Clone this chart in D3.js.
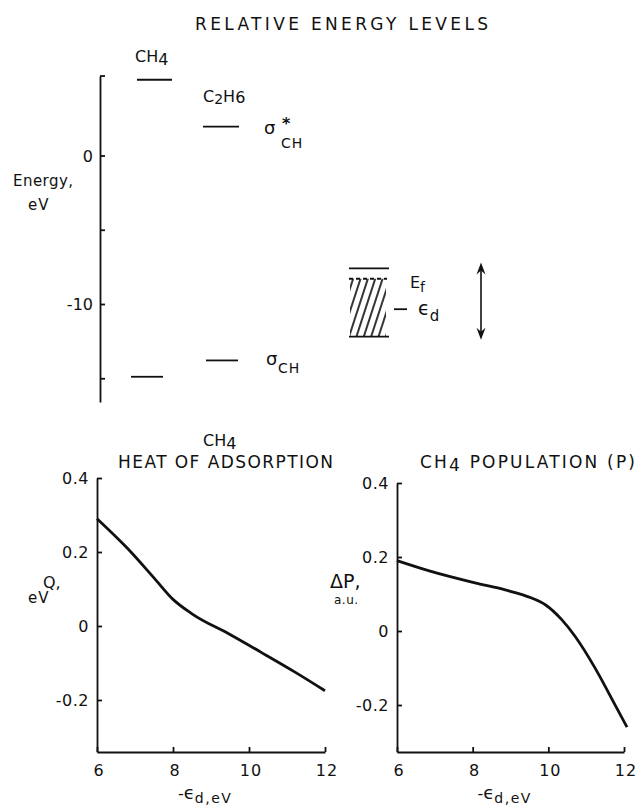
<!DOCTYPE html>
<html>
<head>
<meta charset="utf-8">
<script src="https://cdn.jsdelivr.net/npm/d3@7"></script>
<style>
  html, body { margin: 0; padding: 0; background: #fff; }
  svg { display: block; }
  text { font-family: "DejaVu Sans", sans-serif; fill: #111; }
</style>
</head>
<body>
<script>
// ---------- Data ----------
// Relative energy levels (eV)
const energyTicks = [0, -5, -10, -15];
const energyTickLabels = ["0", "", "-10", ""];
const ch4Levels = [5.1, -14.9];      // sigma*CH, sigmaCH
const c2h6Levels = [1.95, -13.8];    // sigma*CH, sigmaCH
const fermiLevel = -7.6;             // E_f
const bandTop = -8.3;
const bandBottom = -12.2;
const dLevel = -10.35;               // epsilon_d
const arrowRange = [-7.2, -12.4];

// Bottom plots
const xTicks = [6, 8, 10, 12];
const yTicks = [0.4, 0.2, 0, -0.2];
const yTickLabels = ["0.4", "0.2", "0", "-0.2"];
const heatX = [6, 6.8, 7.5, 8, 8.5, 9.5, 10.3, 11.2, 12];
const heatQ = [0.29, 0.21, 0.13, 0.072, 0.033, -0.023, -0.07, -0.124, -0.175];
const popX = [6, 6.83, 8.06, 8.86, 9.56, 9.92, 10.36, 10.71, 11.24, 11.77, 12.08];
const popP = [0.19, 0.163, 0.13, 0.111, 0.089, 0.071, 0.03, -0.015, -0.101, -0.201, -0.26];

// ---------- Drawing ----------
const W = 638, H = 806;
const svg = d3.select("body").append("svg").attr("width", W).attr("height", H);
const ink = "#111";

const defs = svg.append("defs");
defs.append("pattern")
  .attr("id", "hatch").attr("patternUnits", "userSpaceOnUse")
  .attr("width", 7).attr("height", 10).attr("patternTransform", "rotate(18)")
  .append("line").attr("x1", 2).attr("y1", 0).attr("x2", 2).attr("y2", 10)
  .attr("stroke", ink).attr("stroke-width", 1.7);

// Title
svg.append("text").attr("x", 195).attr("y", 30)
  .attr("textLength", 293).attr("lengthAdjust", "spacing")
  .style("font-size", "17px").text("RELATIVE ENERGY LEVELS");

// ---- Energy axis ----
const axisX = 100;
const eScale = d3.scaleLinear().domain([0, -10]).range([155.5, 304]);
const eFull = eScale.copy().domain([5.35, -16.6]).range([eScale(5.35), eScale(-16.6)]);
const eg = svg.append("g").attr("transform", `translate(${axisX},0)`);
eg.call(d3.axisRight(eFull).tickValues(energyTicks).tickSize(5).tickSizeOuter(0).tickFormat(""));
eg.selectAll("path, line").attr("stroke", ink).attr("stroke-width", 1.8);
eg.append("line").attr("x1", 0).attr("x2", 5).attr("y1", eFull(5.35)).attr("y2", eFull(5.35))
  .attr("stroke", ink).attr("stroke-width", 1.8);

svg.append("g").selectAll("text").data(energyTicks).join("text")
  .attr("x", axisX - 7).attr("y", d => eScale(d) + 6)
  .attr("text-anchor", "end").style("font-size", "16px")
  .text((d, i) => energyTickLabels[i]);

svg.append("text").attr("x", 13).attr("y", 186).attr("textLength", 60).attr("lengthAdjust", "spacing")
  .style("font-size", "15px").text("Energy,");
svg.append("text").attr("x", 28).attr("y", 210).attr("letter-spacing", "1").style("font-size", "15px").text("eV");

// Levels
const lvl = svg.append("g").attr("stroke", ink).attr("stroke-width", 1.8);
const ch4X = [[137, 172], [131, 163]];
const c2h6X = [[203, 239], [206, 238]];
ch4Levels.forEach((v, i) => lvl.append("line").attr("x1", ch4X[i][0]).attr("x2", ch4X[i][1])
  .attr("y1", eScale(v)).attr("y2", eScale(v)));
c2h6Levels.forEach((v, i) => lvl.append("line").attr("x1", c2h6X[i][0]).attr("x2", c2h6X[i][1])
  .attr("y1", eScale(v)).attr("y2", eScale(v)));

// labels CH4 and C2H6
const t1 = svg.append("text").attr("x", 135).attr("y", 62).style("font-size", "16px");
t1.append("tspan").text("CH");
t1.append("tspan").attr("dy", 3).text("4");
const t2 = svg.append("text").attr("x", 203).attr("y", 102).style("font-size", "16px");
t2.append("tspan").text("C");
t2.append("tspan").attr("dy", 2).style("font-size", "14px").text("2");
t2.append("tspan").attr("dy", -2).text("H");
t2.append("tspan").attr("dy", 1).text("6");

// sigma labels
svg.append("text").attr("x", 264).attr("y", 134).style("font-size", "18px").text("σ");
svg.append("text").attr("x", 282).attr("y", 129).style("font-size", "16px").style("font-weight", "bold").text("*");
svg.append("text").attr("x", 281).attr("y", 148).style("font-size", "14px").attr("letter-spacing", "1").text("CH");
svg.append("text").attr("x", 266).attr("y", 365).style("font-size", "18px").text("σ");
svg.append("text").attr("x", 278).attr("y", 373).style("font-size", "14px").attr("letter-spacing", "1").text("CH");

// Metal band
const bx0 = 349, bx1 = 389;
svg.append("rect").attr("x", bx0 + 1).attr("y", eScale(bandTop)).attr("width", bx1 - bx0 - 4)
  .attr("height", eScale(bandBottom) - eScale(bandTop)).attr("fill", "url(#hatch)");
const mb = svg.append("g").attr("stroke", ink).attr("stroke-width", 1.8);
mb.append("line").attr("x1", bx0).attr("x2", bx1).attr("y1", eScale(fermiLevel)).attr("y2", eScale(fermiLevel));
mb.append("line").attr("x1", bx0).attr("x2", bx1 - 2).attr("y1", eScale(bandTop)).attr("y2", eScale(bandTop))
  .attr("stroke-dasharray", "4,3");
mb.append("line").attr("x1", bx0).attr("x2", bx1).attr("y1", eScale(bandBottom)).attr("y2", eScale(bandBottom));
mb.append("line").attr("x1", 394).attr("x2", 407).attr("y1", eScale(dLevel)).attr("y2", eScale(dLevel));

const ef = svg.append("text").attr("x", 410).attr("y", 288).style("font-size", "16px");
ef.append("tspan").text("E");
ef.append("tspan").attr("dy", 4).style("font-size", "14px").text("f");
const ed = svg.append("text").attr("x", 418).attr("y", 315).style("font-size", "19px");
ed.append("tspan").text("ϵ");
ed.append("tspan").attr("dy", 6).style("font-size", "15px").text("d");

// double arrow
const ax = 481, ay0 = eScale(arrowRange[0]), ay1 = eScale(arrowRange[1]);
svg.append("line").attr("x1", ax).attr("x2", ax).attr("y1", ay0 + 3).attr("y2", ay1 - 3)
  .attr("stroke", ink).attr("stroke-width", 1.6);
svg.append("path").attr("d", `M${ax},${ay0} L${ax - 4.5},${ay0 + 12} L${ax},${ay0 + 8} L${ax + 4.5},${ay0 + 12} Z`).attr("fill", ink);
svg.append("path").attr("d", `M${ax},${ay1} L${ax - 4.5},${ay1 - 12} L${ax},${ay1 - 8} L${ax + 4.5},${ay1 - 12} Z`).attr("fill", ink);

// ---------- Bottom plots ----------
function panel(opts) {
  const { x0, x1, yTop4, yNeg2, yBottom, xs, ys } = opts;
  const x = d3.scaleLinear().domain([6, 12]).range([x0, x1]);
  const y = d3.scaleLinear().domain([-0.2, 0.4]).range([yNeg2, yTop4]);
  const yMin = y.invert(yBottom);
  const yFull = y.copy().domain([yMin, 0.4]).range([yBottom, yTop4]);
  const g = svg.append("g");
  const ya = g.append("g").attr("transform", `translate(${x0},0)`)
    .call(d3.axisRight(yFull).tickValues(yTicks).tickSize(5).tickSizeOuter(0).tickFormat(""));
  ya.selectAll("path, line").attr("stroke", ink).attr("stroke-width", 1.8);
  const xa = g.append("g").attr("transform", `translate(0,${yBottom})`)
    .call(d3.axisTop(x).tickValues(xTicks).tickSize(5).tickSizeOuter(0).tickFormat(""));
  xa.selectAll("path, line").attr("stroke", ink).attr("stroke-width", 1.8);
  g.append("g").selectAll("text").data(yTicks).join("text")
    .attr("x", x0 - 8).attr("y", d => y(d) + 6).attr("text-anchor", "end")
    .attr("letter-spacing", "0.5")
    .style("font-size", "16px").text((d, i) => yTickLabels[i]);
  g.append("g").selectAll("text").data(xTicks).join("text")
    .attr("x", d => x(d) + 2).attr("y", yBottom + 24).attr("text-anchor", "middle")
    .attr("letter-spacing", "1")
    .style("font-size", "16px").text(d => d);
  const xl = g.append("text").attr("x", (x0 + x1) / 2 - 33).attr("y", yBottom + 47).style("font-size", "16px");
  xl.append("tspan").text("-");
  xl.append("tspan").style("font-size", "18px").text("ϵ");
  xl.append("tspan").attr("dy", 4).attr("letter-spacing", "1.5").style("font-size", "14px").text("d,eV");
  const line = d3.line().x(d => x(d[0])).y(d => y(d[1])).curve(d3.curveMonotoneX);
  g.append("path").datum(xs.map((v, i) => [v, ys[i]])).attr("d", line)
    .attr("fill", "none").attr("stroke", ink).attr("stroke-width", 2.8).attr("stroke-linejoin", "round");
}

panel({ x0: 97, x1: 325, yTop4: 478, yNeg2: 700, yBottom: 752, xs: heatX, ys: heatQ });
panel({ x0: 397, x1: 624, yTop4: 483, yNeg2: 705, yBottom: 752, xs: popX, ys: popP });

// Left panel titles & labels
const lt = svg.append("text").attr("x", 203).attr("y", 446).style("font-size", "16px");
lt.append("tspan").text("CH");
lt.append("tspan").attr("dy", 3).text("4");
svg.append("text").attr("x", 118).attr("y", 468).attr("textLength", 215).attr("lengthAdjust", "spacing")
  .style("font-size", "17px").text("HEAT OF ADSORPTION");
svg.append("text").attr("x", 43).attr("y", 588).style("font-size", "16px").text("Q,");
svg.append("text").attr("x", 28).attr("y", 603).attr("letter-spacing", "1").style("font-size", "15px").text("eV");

// Right panel titles & labels
const rt = svg.append("text").attr("x", 420).attr("y", 468).attr("textLength", 215).attr("lengthAdjust", "spacing")
  .style("font-size", "17px");
rt.append("tspan").text("CH");
rt.append("tspan").attr("dy", 3).text("4");
rt.append("tspan").attr("dy", -3).text(" POPULATION (P)");
svg.append("text").attr("x", 330).attr("y", 588).style("font-size", "19px").text("ΔP,");
svg.append("text").attr("x", 334).attr("y", 604).attr("letter-spacing", "0.5").style("font-size", "12px").text("a.u.");
</script>
</body>
</html>
